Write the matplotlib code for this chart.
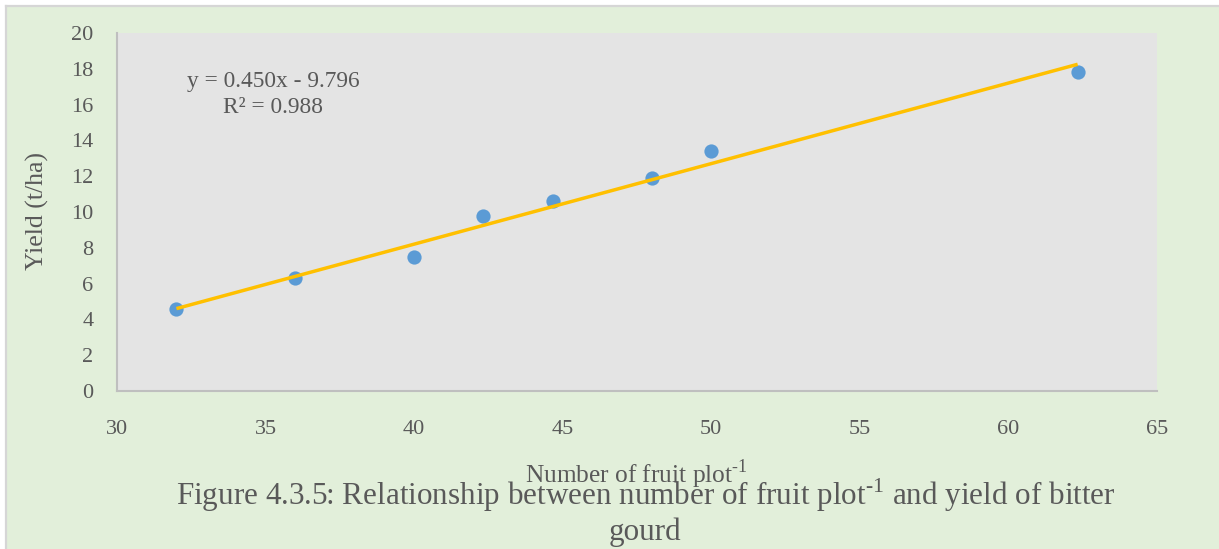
import numpy as np
import matplotlib.pyplot as plt
from matplotlib.patches import Rectangle
from matplotlib.lines import Line2D

plt.rcParams['font.family'] = ['Liberation Serif', 'DejaVu Serif']
plt.rcParams['mathtext.fontset'] = 'custom'
plt.rcParams['mathtext.rm'] = 'Liberation Serif'

# Number of fruit per plot vs. yield of bitter gourd
fruit_per_plot = [32, 36, 40, 42.33, 44.67, 48, 50, 62.33]
yield_t_ha = [4.6, 6.3, 7.5, 9.8, 10.6, 11.9, 13.4, 17.8]

# Linear trendline coefficients
slope = 0.450
intercept = -9.796
r_squared = 0.988

x_ticks = [30, 35, 40, 45, 50, 55, 60, 65]
y_ticks = [0, 2, 4, 6, 8, 10, 12, 14, 16, 18, 20]

text_col = '#595959'
green_bg = '#E2EFDA'
W, H = 1219, 549

fig = plt.figure(figsize=(W / 100, H / 100), dpi=100)
fig.patch.set_facecolor('white')

# green panel with a thin grey edge on top and left
fig.patches.append(Rectangle((6 / W, 0), 1, 1 - 6 / H, transform=fig.transFigure,
                             facecolor=green_bg, edgecolor='none', zorder=-10))
fig.lines.append(Line2D([6 / W, 1], [1 - 6 / H, 1 - 6 / H], transform=fig.transFigure,
                        color='#D6D6D6', lw=1.6))
fig.lines.append(Line2D([6 / W, 6 / W], [0, 1 - 6 / H], transform=fig.transFigure,
                        color='#D6D6D6', lw=1.6))

ax = fig.add_axes([117 / W, 1 - 391 / H, 1040 / W, 358 / H])
ax.set_facecolor('#E4E4E4')

ax.scatter(fruit_per_plot, yield_t_ha, s=105, color='#5B9BD5', zorder=3,
           linewidths=0)

x_line = np.array([min(fruit_per_plot), max(fruit_per_plot)])
ax.plot(x_line, slope * x_line + intercept, color='#FFC000', lw=2.5, zorder=4,
        solid_capstyle='butt')

ax.set_xlim(30, 65)
ax.set_ylim(0, 20)
ax.set_xticks(x_ticks)
ax.set_yticks(y_ticks)
ax.tick_params(axis='both', length=0, labelsize=16, colors=text_col)
ax.tick_params(axis='x', pad=21)
ax.tick_params(axis='y', pad=17)

for side in ['top', 'right']:
    ax.spines[side].set_visible(False)
for side in ['left', 'bottom']:
    ax.spines[side].set_color('#BFBFBF')
    ax.spines[side].set_linewidth(1.5)

ax.text(35.25, 16.55, f'y = {slope:.3f}x - {abs(intercept):.3f}\nR² = {r_squared:.3f}',
        fontsize=16.8, color=text_col, ha='center', va='center',
        linespacing=1.3)

sup = r'$^{\mathregular{‐1}}$'
fig.text(37 / W, 1 - 211 / H, 'Yield (t/ha)', rotation=90,
         fontsize=18.5, color=text_col, ha='center', va='center')
fig.text(636 / W, 1 - 483 / H, 'Number of fruit plot' + sup,
         fontsize=18.3, color=text_col, ha='center', va='baseline')
fig.text(646 / W, 1 - 505 / H,
         'Figure 4.3.5: Relationship between number of fruit plot' + sup
         + ' and yield of bitter',
         fontsize=22.4, color=text_col, ha='center', va='baseline')
fig.text(645 / W, 1 - 540 / H, 'gourd',
         fontsize=22.4, color=text_col, ha='center', va='baseline')

fig.savefig('out.png', dpi=100)
